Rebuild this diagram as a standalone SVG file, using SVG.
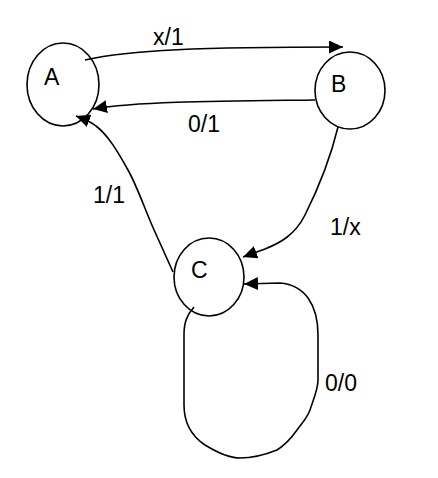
<svg xmlns="http://www.w3.org/2000/svg" width="438" height="478" viewBox="0 0 438 478">
<style>
.node{fill:#fff;stroke:#000;stroke-width:1.6}
.lbl{font-family:"Liberation Sans",Arial,sans-serif;font-size:23px;fill:#000}
.edge{fill:none;stroke:#000;stroke-width:1.6}
</style>
<defs>
<marker id="arr" markerUnits="userSpaceOnUse" markerWidth="15" markerHeight="13" refX="14" refY="6.5" orient="auto" viewBox="0 0 15 13">
<path d="M0,0 L14,6.5 L0,13 z" fill="#000"/>
</marker>
</defs>
<rect width="438" height="478" fill="#fff"/>
<g id="node-A"><ellipse class="node" cx="63" cy="84.5" rx="36" ry="41.5"/><text class="lbl" x="44" y="85">A</text></g>
<g id="node-B"><ellipse class="node" cx="350" cy="90.5" rx="35" ry="38.5"/><text class="lbl" x="331" y="92">B</text></g>
<g id="node-C"><ellipse class="node" cx="209" cy="277" rx="35" ry="39"/><text class="lbl" x="191" y="278">C</text></g>
<g id="connectors">
<path class="edge" d="M85,60 C130,50 200,47 343,47" marker-end="url(#arr)"/>
<path class="edge" d="M315,100 C230,101 140,101 93,109" marker-end="url(#arr)"/>
<path class="edge" d="M173,272 L155,232 C145,210 138,188 128,170 C118,152 108,135 96,126 C90,121 84,119 76,116" marker-end="url(#arr)"/>
<path class="edge" d="M338,127 C330,160 320,185 305,215 C295,235 280,243 265,249 L243,257" marker-end="url(#arr)"/>
<path class="edge" d="M194,307 C187,315 184,322 184,335 L184,405 C184,420 190,435 205,445 C218,453 230,458 240,458 C252,458 262,456 277,450 C285,445 290,440 297,430 C303,422 307,418 310,410 C313,400 318,390 318,380 L318,335 C318,305 305,285 280,283 L244,284" marker-end="url(#arr)"/>
</g>
<g id="labels">
<text class="lbl" x="153" y="45">x/1</text>
<text class="lbl" x="188" y="132">0/1</text>
<text class="lbl" x="93" y="203">1/1</text>
<text class="lbl" x="330" y="235">1/x</text>
<text class="lbl" x="325" y="391">0/0</text>
</g>
</svg>
